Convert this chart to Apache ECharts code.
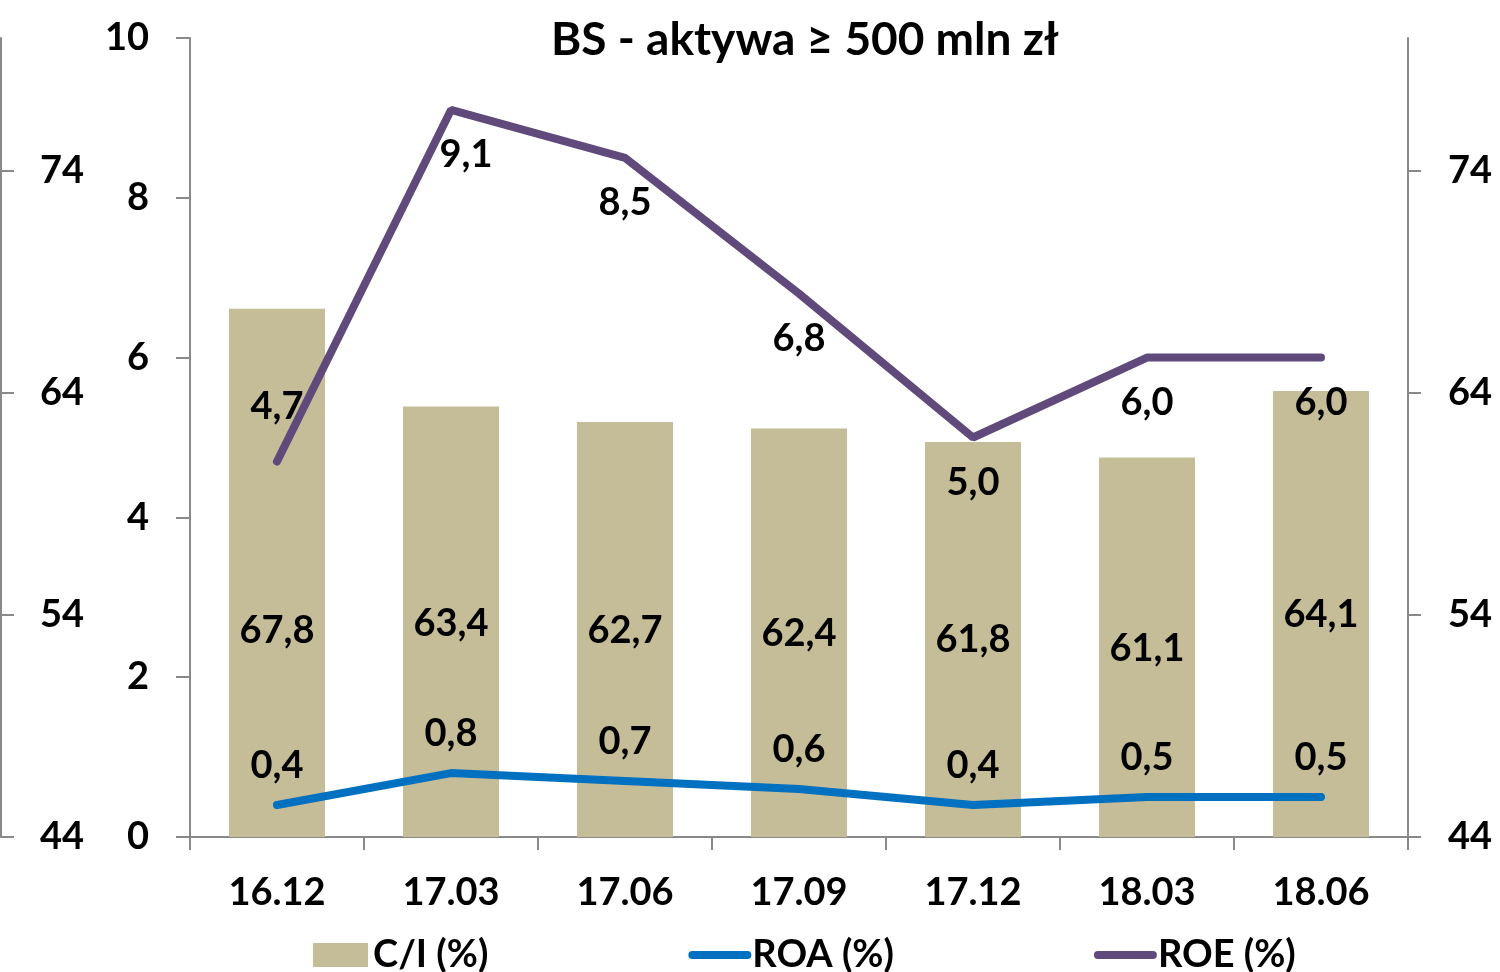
<!DOCTYPE html>
<html>
<head>
<meta charset="utf-8">
<script src="https://cdn.jsdelivr.net/npm/echarts@6/dist/echarts.min.js"></script>
<style>
  html, body { margin: 0; padding: 0; background: #fff; }
  #chart { width: 1500px; height: 972px; }
</style>
</head>
<body>
<div id="chart"></div>
<script>
// dane
var categories = ['16.12', '17.03', '17.06', '17.09', '17.12', '18.03', '18.06'];
var ciValues = [67.8, 63.4, 62.7, 62.4, 61.8, 61.1, 64.1];
var roaValues = [0.4, 0.8, 0.7, 0.6, 0.4, 0.5, 0.5];
var roeValues = [4.7, 9.1, 8.5, 6.8, 5.0, 6.0, 6.0];
var ciTicks = [44, 54, 64, 74];

// rozmieszczenie etykiet (nie dane)
var ciLabelLift = [187, 194, 187, 184, 178, 169, 203];
var roeLabelSide = ['top', 'bottom', 'bottom', 'bottom', 'bottom', 'bottom', 'bottom'];

var FONT = 'Lato';
var FS = 38;
var axisGray = '#898989';

function fmt(p) {
  return Number(p.value).toFixed(1).replace('.', ',');
}

var myChart = echarts.init(document.getElementById('chart'));

var ciData = ciValues.map(function (v, i) {
  return { value: v, label: { distance: ciLabelLift[i] } };
});
var roeData = roeValues.map(function (v, i) {
  var top = roeLabelSide[i] === 'top';
  return { value: v, label: { position: roeLabelSide[i], distance: top ? 36 : 26, offset: i === 1 ? [15, 0] : [0, 0] } };
});

var labelText = { fontFamily: FONT, fontWeight: 'bold', fontSize: FS, color: '#000' };

var option = {
  animation: false,
  textStyle: { fontFamily: FONT },
  title: {
    text: 'BS - aktywa \u2265 500 mln z\u0142',
    left: 800,
    textAlign: 'center',
    top: 12,
    textStyle: { fontFamily: FONT, fontWeight: 'bold', fontSize: 46, color: '#000' }
  },
  grid: { left: 190, right: 92, top: 38, bottom: 135 },
  legend: {
    top: 931,
    left: 308,
    itemWidth: 55,
    itemHeight: 24,
    itemGap: 200,
    textStyle: { fontFamily: FONT, fontWeight: 'bold', fontSize: FS, color: '#000' },
    lineStyle: { width: 8, cap: 'round' },
    data: [
      { name: 'C/I (%)', icon: 'rect' },
      { name: 'ROA (%)', itemStyle: { opacity: 0 } },
      { name: 'ROE (%)', itemStyle: { opacity: 0 } }
    ]
  },
  xAxis: {
    type: 'category',
    data: categories,
    boundaryGap: true,
    axisLine: { lineStyle: { color: axisGray, width: 2 } },
    axisTick: { show: true, length: 13, interval: 0, lineStyle: { color: axisGray, width: 2 } },
    axisLabel: { margin: 37, interval: 0, fontFamily: FONT, fontWeight: 'bold', fontSize: FS, color: '#000' },
    splitLine: { show: false }
  },
  yAxis: [
    {
      // wewnętrzna lewa: ROA, ROE
      type: 'value',
      position: 'left',
      min: 0,
      max: 10,
      interval: 2,
      axisLine: { show: true, lineStyle: { color: axisGray, width: 2 } },
      axisTick: { show: true, length: 14, lineStyle: { color: axisGray, width: 2 } },
      axisLabel: { margin: 41, fontFamily: FONT, fontWeight: 'bold', fontSize: FS, color: '#000' },
      splitLine: { show: false }
    },
    {
      // prawa: C/I
      type: 'value',
      position: 'right',
      min: 44,
      max: 80,
      interval: 10,
      axisLine: { show: true, lineStyle: { color: axisGray, width: 2 } },
      axisTick: { show: true, length: 13, customValues: ciTicks, lineStyle: { color: axisGray, width: 2 } },
      axisLabel: { margin: 40, customValues: ciTicks, fontFamily: FONT, fontWeight: 'bold', fontSize: FS, color: '#000' },
      splitLine: { show: false }
    },
    {
      // zewnętrzna lewa: kopia skali C/I
      type: 'value',
      position: 'left',
      offset: 189,
      min: 44,
      max: 80,
      interval: 10,
      axisLine: { show: true, lineStyle: { color: axisGray, width: 2 } },
      axisTick: { show: true, inside: true, length: 13, customValues: ciTicks, lineStyle: { color: axisGray, width: 2 } },
      axisLabel: { inside: true, margin: 39, customValues: ciTicks, fontFamily: FONT, fontWeight: 'bold', fontSize: FS, color: '#000' },
      splitLine: { show: false }
    }
  ],
  series: [
    {
      name: 'C/I (%)',
      type: 'bar',
      yAxisIndex: 1,
      barWidth: 96,
      z: 1,
      itemStyle: { color: '#c4bd97' },
      label: Object.assign({ show: true, position: 'insideBottom', formatter: fmt }, labelText),
      data: ciData
    },
    {
      name: 'ROA (%)',
      type: 'line',
      yAxisIndex: 0,
      symbol: 'circle',
      symbolSize: 0,
      showSymbol: true,
      z: 5,
      lineStyle: { color: '#0070c0', width: 8, cap: 'round' },
      itemStyle: { color: '#0070c0' },
      label: Object.assign({ show: true, position: 'top', distance: 20, formatter: fmt }, labelText),
      data: roaValues
    },
    {
      name: 'ROE (%)',
      type: 'line',
      yAxisIndex: 0,
      symbol: 'circle',
      symbolSize: 0,
      showSymbol: true,
      z: 5,
      lineStyle: { color: '#604a7b', width: 8, cap: 'round' },
      itemStyle: { color: '#604a7b' },
      label: Object.assign({ show: true, formatter: fmt }, labelText),
      data: roeData
    }
  ]
};

// 把配置给实例对象
myChart.setOption(option);
</script>
</body>
</html>
